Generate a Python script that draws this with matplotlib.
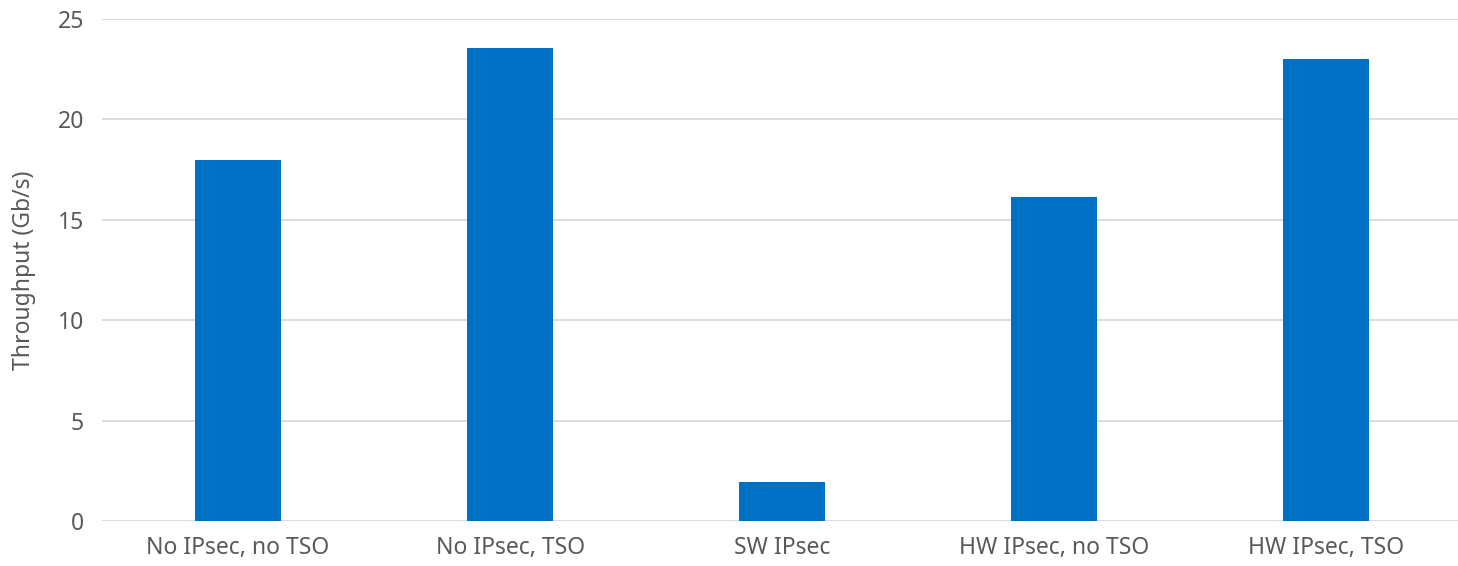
import matplotlib
matplotlib.use("Agg")
import matplotlib.pyplot as plt

categories = ["No IPsec, no TSO", "No IPsec, TSO", "SW IPsec", "HW IPsec, no TSO", "HW IPsec, TSO"]
throughput = [18.0, 23.55, 1.95, 16.15, 23.0]
yticks = [0, 5, 10, 15, 20, 25]

plt.rcParams['font.family'] = ['Noto Sans', 'DejaVu Sans']
text_color = '#595959'

fig = plt.figure(figsize=(14.58, 5.66), dpi=100)
ax = fig.add_axes([0.07, 0.0795, 0.933, 0.8869])

x = range(len(categories))
ax.bar(x, throughput, width=0.316, color='#0070C4', zorder=3)

ax.set_xlim(-0.5, len(categories) - 0.5)
ax.set_ylim(0, 25)
ax.set_yticks(yticks)
ax.set_xticks(list(x))
ax.set_xticklabels(categories)
ax.grid(axis='y', color='#D9D9D9', linewidth=1.3, zorder=0)
ax.set_axisbelow(True)

for s in ax.spines.values():
    s.set_visible(False)
ax.tick_params(axis='both', length=0, labelsize=16.5, colors=text_color)
ax.tick_params(axis='y', pad=13)
ax.tick_params(axis='x', pad=11)
ax.set_ylabel("Throughput (Gb/s)", fontsize=16.5, color=text_color)
ax.yaxis.set_label_coords(-0.0485, 0.5)

fig.savefig("out.png", dpi=100)
